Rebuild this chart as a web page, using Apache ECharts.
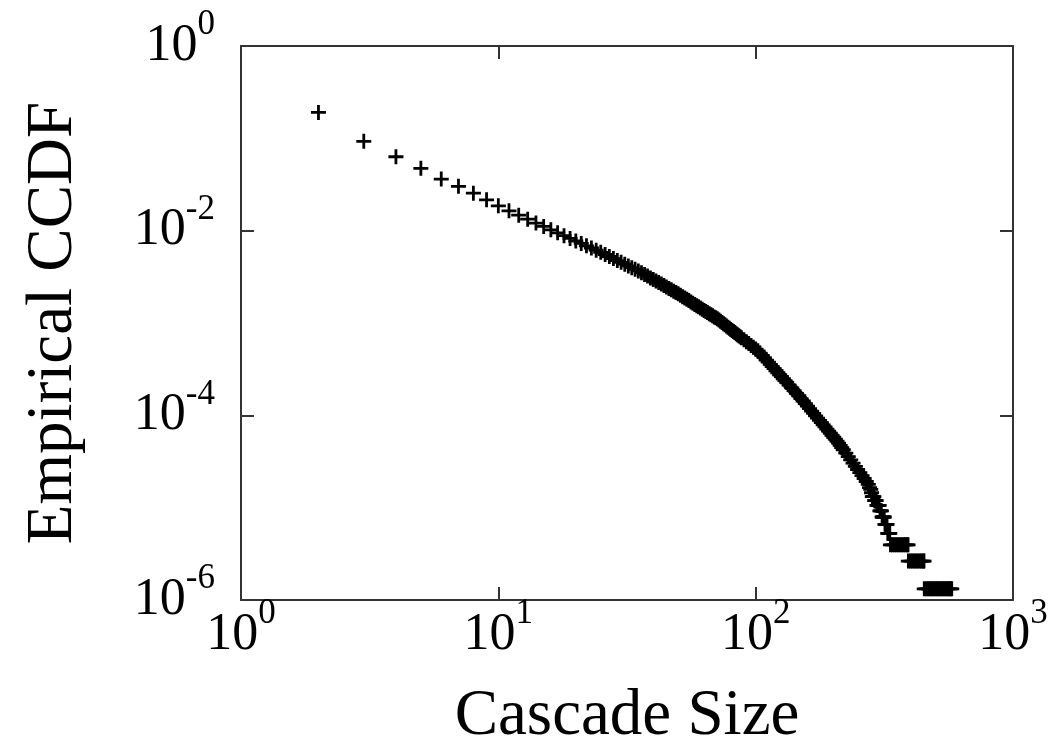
<!DOCTYPE html>
<html>
<head>
<meta charset="utf-8">
<script src="https://cdn.jsdelivr.net/npm/echarts@6/dist/echarts.min.js"></script>
<style>
  html, body { margin: 0; padding: 0; background: #fff; }
  #chart { width: 1053px; height: 751px; }
</style>
</head>
<body>
<div id="chart"></div>
<script>
// cascade sizes (x)
var sizes = [
  2, 3, 4, 5, 6, 7, 8, 9, 10, 11, 12, 13, 14, 15, 16, 17, 18, 19, 20, 21, 22, 23, 24,
  25, 26, 27, 28, 29, 30, 31, 32, 33, 34, 35,
  36, 37, 38, 39, 40, 41, 42, 43, 44, 45, 46, 47, 48, 49, 50,
  51, 52, 53, 54, 55, 56, 57, 58, 59, 60, 61, 62, 63, 64, 65, 66, 67, 68, 69, 70, 71,
  72, 73, 74, 75, 76, 77, 78, 79, 80, 81, 82, 83, 84, 85, 86, 87, 88,
  90, 92, 94, 96, 98, 100, 102,
  104, 106, 108, 110, 112, 114, 116, 118, 120, 122, 124, 126, 128, 130, 132,
  135, 138, 141, 144,
  147, 150, 153, 156, 159, 162, 165, 168, 171, 174, 177, 180, 183, 186, 189, 192, 195, 198, 201, 204, 207,
  210, 213, 216, 219,
  224, 229, 234, 239, 244, 249, 254, 259, 264, 269, 274, 277, 280, 282,
  284, 286, 288, 290, 292, 294, 296, 298, 300, 302, 304, 306, 308,
  310, 312, 314, 316, 318, 320, 322, 324, 326, 328, 330, 332,
  334, 340, 346, 352, 358, 364, 370, 376, 382, 388, 391,
  392, 399, 406, 413, 420, 427, 434, 441, 448, 451,
  452, 460, 468, 476, 484, 492, 500, 508, 516, 524, 532, 540, 548, 556, 564, 572, 578
];

// empirical CCDF (y) for each size
var ccdf = [
  0.191, 0.0927, 0.0632, 0.0473, 0.0362, 0.0302, 0.0255, 0.0216, 0.0186, 0.0164,
  0.0147, 0.0133, 0.0121, 0.0111, 0.0102, 0.00948, 0.00883, 0.00824, 0.00773, 0.00728, 0.00686, 0.00649, 0.00615,
  0.00583, 0.00552, 0.00525, 0.00499, 0.00475, 0.00454, 0.00434, 0.00415, 0.00397, 0.00381, 0.00366,
  0.00351, 0.00336, 0.00322, 0.00308, 0.00296, 0.00285, 0.00274, 0.00264, 0.00254, 0.00245, 0.00237, 0.00229, 0.00221, 0.00214, 0.00207,
  0.00200, 0.00193, 0.00187, 0.00181, 0.00175, 0.00169, 0.00164, 0.00159, 0.00154, 0.00150, 0.00145, 0.00141, 0.00137, 0.00133, 0.00130, 0.00126, 0.00123, 0.00120, 0.00116, 0.00114, 0.00111,
  0.001076, 0.001045, 0.001014, 0.000984, 0.000955, 0.000929, 0.000902, 0.000877, 0.000853, 0.000830, 0.000809, 0.000787, 0.000766, 0.000746, 0.000728, 0.000710, 0.000692,
  0.000659, 0.000628, 0.000598, 0.000571, 0.000546, 0.000522, 0.000500,
  0.000472, 0.000446, 0.000421, 0.000397, 0.000376, 0.000356, 0.000337, 0.000320, 0.000304, 0.000289, 0.000275, 0.000262, 0.000249, 0.000238, 0.000227,
  0.000212, 0.000198, 0.000185, 0.000173,
  0.000163, 0.000152, 0.000143, 0.000134, 0.000126, 0.000118, 0.000111, 0.000105, 9.89e-5, 9.33e-5, 8.81e-5, 8.34e-5, 7.89e-5, 7.48e-5, 7.10e-5, 6.74e-5, 6.40e-5, 6.08e-5, 5.79e-5, 5.52e-5, 5.26e-5,
  4.99e-5, 4.72e-5, 4.47e-5, 4.24e-5,
  3.89e-5, 3.57e-5, 3.29e-5, 3.03e-5, 2.80e-5, 2.59e-5, 2.40e-5, 2.22e-5, 2.07e-5, 1.92e-5, 1.79e-5, 1.65e-5, 1.58e-5, 1.45e-5,
  1.32e-5, 1.32e-5, 1.32e-5, 1.19e-5, 1.19e-5, 1.19e-5, 1.06e-5, 1.06e-5, 1.06e-5, 1.06e-5, 9.24e-6, 9.24e-6, 9.24e-6,
  7.92e-6, 7.92e-6, 7.92e-6, 7.92e-6, 6.60e-6, 6.60e-6, 6.60e-6, 6.60e-6, 5.28e-6, 5.28e-6, 5.28e-6, 5.28e-6,
  3.96e-6, 3.96e-6, 3.96e-6, 3.96e-6, 3.96e-6, 3.96e-6, 3.96e-6, 3.96e-6, 3.96e-6, 3.96e-6, 3.96e-6,
  2.64e-6, 2.64e-6, 2.64e-6, 2.64e-6, 2.64e-6, 2.64e-6, 2.64e-6, 2.64e-6, 2.64e-6, 2.64e-6,
  1.32e-6, 1.32e-6, 1.32e-6, 1.32e-6, 1.32e-6, 1.32e-6, 1.32e-6, 1.32e-6, 1.32e-6, 1.32e-6, 1.32e-6, 1.32e-6, 1.32e-6, 1.32e-6, 1.32e-6, 1.32e-6, 1.32e-6
];

var xTicks = [1, 10, 100, 1000];
var yTicks = [1e-6, 1e-4, 1e-2, 1];

var serif = 'Liberation Serif';
var axisColor = '#333';

var points = [];
for (var i = 0; i < sizes.length; i++) {
  points.push([sizes[i], ccdf[i]]);
}

// 10^k label; exponent lifted with bottom padding
function powLabel(v) {
  var e = Math.round(Math.log(v) / Math.LN10);
  return '{b|10}{s|' + e + '}';
}
var richText = {
  b: { fontFamily: serif, fontSize: 52, color: '#000', lineHeight: 52 },
  s: { fontFamily: serif, fontSize: 35, color: '#000', lineHeight: 10, padding: [0, 0, 42, 0] }
};

var plusSymbol = 'path://M5.7,0H8.3V5.7H14V8.3H8.3V14H5.7V8.3H0V5.7H5.7Z';

var option = {
  animation: false,
  backgroundColor: '#fff',
  grid: {
    left: 241, right: 40, top: 46, bottom: 151,
    containLabel: false,
    outerBoundsMode: 'none'
  },
  xAxis: [{
    type: 'log', logBase: 10, min: 1, max: 1000,
    name: 'Cascade Size', nameLocation: 'middle', nameGap: 84,
    nameTextStyle: { fontFamily: serif, fontSize: 65, color: '#000' },
    axisLine: { show: true, lineStyle: { color: axisColor, width: 2 } },
    axisTick: { show: true, inside: true, length: 13, customValues: xTicks, lineStyle: { color: axisColor, width: 2 } },
    axisLabel: { show: true, margin: 9, customValues: xTicks, formatter: powLabel, rich: richText },
    splitLine: { show: false },
    minorTick: { show: false }
  }, {
    type: 'log', logBase: 10, min: 1, max: 1000, position: 'top',
    axisLine: { show: true, lineStyle: { color: axisColor, width: 2 } },
    axisTick: { show: true, inside: true, length: 13, customValues: xTicks, lineStyle: { color: axisColor, width: 2 } },
    axisLabel: { show: false },
    splitLine: { show: false }
  }],
  yAxis: [{
    type: 'log', logBase: 10, min: 1e-6, max: 1,
    name: 'Empirical CCDF', nameLocation: 'middle', nameGap: 155, nameRotate: 90,
    nameTextStyle: { fontFamily: serif, fontSize: 65, color: '#000' },
    axisLine: { show: true, lineStyle: { color: axisColor, width: 2 } },
    axisTick: { show: true, inside: true, length: 13, customValues: yTicks, lineStyle: { color: axisColor, width: 2 } },
    axisLabel: { show: true, margin: 26, customValues: yTicks, formatter: powLabel, rich: richText },
    splitLine: { show: false },
    minorTick: { show: false }
  }, {
    type: 'log', logBase: 10, min: 1e-6, max: 1, position: 'right',
    axisLine: { show: true, lineStyle: { color: axisColor, width: 2 } },
    axisTick: { show: true, inside: true, length: 13, customValues: yTicks, lineStyle: { color: axisColor, width: 2 } },
    axisLabel: { show: false },
    splitLine: { show: false }
  }],
  series: [{
    type: 'scatter',
    xAxisIndex: 0,
    yAxisIndex: 0,
    data: points,
    symbol: plusSymbol,
    symbolSize: 15,
    itemStyle: { color: '#000', opacity: 1 },
    emphasis: { disabled: true }
  }]
};

echarts.init(document.getElementById('chart')).setOption(option);
</script>
</body>
</html>
